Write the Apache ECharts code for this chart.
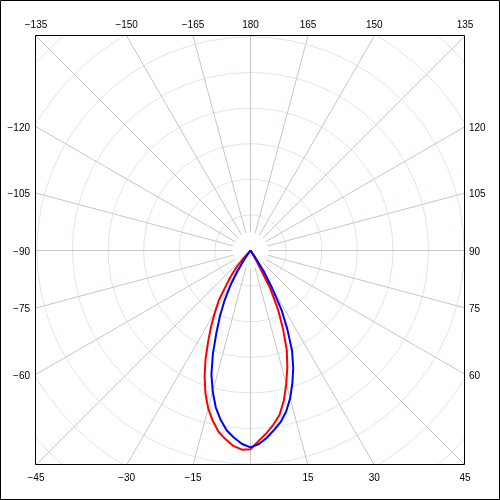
<!DOCTYPE html>
<html>
<head>
<meta charset="utf-8">
<script src="https://cdn.jsdelivr.net/npm/echarts@6/dist/echarts.min.js"></script>
<style>
html, body { margin: 0; padding: 0; background: #fff; }
#chart { width: 500px; height: 500px; }
</style>
</head>
<body>
<div id="chart"></div>
<script>
// angle 0 = straight down, +90 = right, 180 = up
const angles = [-60, -57.5, -55, -52.5, -50, -47.5, -45, -42.5, -40, -37.5, -35, -32.5, -30, -27.5, -25,
    -22.5, -20, -17.5, -15, -12.5, -10, -7.5, -5, -2.5, 0, 2.5, 5, 7.5, 10, 12.5, 15, 17.5, 20,
    22.5, 25, 27.5, 30, 32.5, 35, 37.5, 40, 42.5, 45, 47.5, 50, 52.5, 55, 57.5, 60];
const redValues = [0, 0, 0, 0, 0, 0, 0, 28, 59, 90, 118, 165, 199, 239, 281,
    330, 377, 421, 459, 490, 517, 535, 551, 560, 558, 535, 515, 493, 469, 432, 388, 344, 298,
    239, 183, 120, 34, 0, 0, 0, 0, 0, 0, 0, 0, 0, 0, 0, 0];
const blueValues = [0, 0, 0, 0, 0, 0, 0, 0, 0, 0, 28, 69, 112, 157, 203,
    250, 309, 365, 410, 451, 483, 510, 528, 544, 553, 544, 528, 508, 489, 463, 430, 391, 351,
    305, 246, 190, 120, 69, 22, 0, 0, 0, 0, 0, 0, 0, 0, 0, 0];
// angle labels written round the frame
const frameLabels = [-135, -150, -165, 180, 165, 150, 135,
    -120, -105, -90, -75, -60, 120, 105, 90, 75, 60,
    -45, -30, -15, 15, 30, 45];

const cx = 250.5, cy = 250.5;
const half = 214.5;
const font = '10px "Liberation Sans", Arial, sans-serif';

let myChart = echarts.init(document.getElementById('chart'));

function labelText(a) {
    return a < 0 ? '\u2212' + (-a) : String(a);
}

let graphics = [
    // white masks outside the plot frame
    { type: 'rect', z: 1, silent: true, shape: { x: 0, y: 0, width: 500, height: 35.5 }, style: { fill: '#fff' } },
    { type: 'rect', z: 1, silent: true, shape: { x: 0, y: 464.5, width: 500, height: 36 }, style: { fill: '#fff' } },
    { type: 'rect', z: 1, silent: true, shape: { x: 0, y: 0, width: 35.5, height: 500 }, style: { fill: '#fff' } },
    { type: 'rect', z: 1, silent: true, shape: { x: 464.5, y: 0, width: 36, height: 500 }, style: { fill: '#fff' } },
    // spokes do not reach the pole
    { type: 'circle', z: 1, silent: true, shape: { cx: cx, cy: cy, r: 18 }, style: { fill: '#fff' } },
    { type: 'rect', z: 5, silent: true, shape: { x: 35.5, y: 35.5, width: 429, height: 429 }, style: { fill: 'none', stroke: '#000', lineWidth: 1 } },
    { type: 'rect', z: 5, silent: true, shape: { x: 0.5, y: 0.5, width: 499, height: 499 }, style: { fill: 'none', stroke: '#000', lineWidth: 1 } }
];

frameLabels.forEach(function (a) {
    const rad = a * Math.PI / 180;
    const sx = Math.sin(rad), sy = Math.cos(rad);
    const t = half / Math.max(Math.abs(sx), Math.abs(sy));
    const px = cx + t * sx, py = cy + t * sy;
    let x, y, align;
    if (Math.abs(sy) >= Math.abs(sx) - 1e-6) {
        align = 'center';
        x = px;
        y = sy < 0 ? 25 : 478;
    } else if (sx < 0) {
        align = 'right'; x = 30; y = py + 1.5;
    } else {
        align = 'left'; x = 469; y = py + 1.5;
    }
    graphics.push({
        type: 'text', z: 6, silent: true,
        style: {
            text: labelText(a), x: x, y: y, font: font, fill: '#000',
            align: align, verticalAlign: 'middle',
            textAlign: align, textVerticalAlign: 'middle'
        }
    });
});

myChart.setOption({
    animation: false,
    polar: {
        center: [cx, cy],
        radius: 306.2
    },
    angleAxis: {
        type: 'value',
        min: -180,
        max: 180,
        interval: 15,
        startAngle: 90,
        clockwise: false,
        axisLine: { show: false },
        axisTick: { show: false },
        axisLabel: { show: false },
        splitLine: { show: true, lineStyle: { color: '#c6c6c6', width: 1 } }
    },
    radiusAxis: {
        type: 'value',
        min: 0,
        max: 860,
        interval: 100,
        axisLine: { show: false },
        axisTick: { show: false },
        axisLabel: { show: false },
        splitLine: { show: true, lineStyle: { color: '#d3e9ef', width: 1 } }
    },
    series: [
        {
            type: 'line',
            coordinateSystem: 'polar',
            showSymbol: false,
            lineStyle: { color: '#ff0000', width: 2 },
            data: angles.map((a, i) => [redValues[i], a])
        },
        {
            type: 'line',
            coordinateSystem: 'polar',
            showSymbol: false,
            lineStyle: { color: '#0000ff', width: 2 },
            data: angles.map((a, i) => [blueValues[i], a])
        }
    ],
    graphic: { elements: graphics }
});
</script>
</body>
</html>
